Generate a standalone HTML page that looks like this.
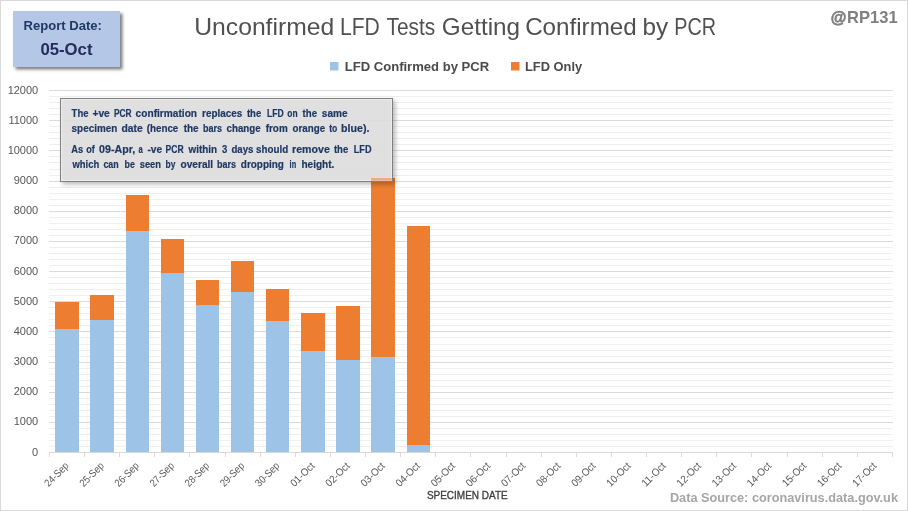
<!DOCTYPE html>
<html lang="en"><head><meta charset="utf-8"><title>Unconfirmed LFD Tests Getting Confirmed by PCR</title>
<style>html,body{margin:0;padding:0;background:#fff}svg{display:block}text{font-family:"Liberation Sans",sans-serif}</style>
</head><body>
<svg width="908" height="511" viewBox="0 0 908 511">
<defs>
<filter id="sh1" x="-20%" y="-20%" width="150%" height="150%"><feDropShadow dx="2.5" dy="2.5" stdDeviation="1.8" flood-color="#000" flood-opacity="0.5"/></filter>
<filter id="sh2" x="-10%" y="-20%" width="120%" height="150%"><feDropShadow dx="2.5" dy="2.5" stdDeviation="2" flood-color="#000" flood-opacity="0.28"/></filter>
</defs>
<rect x="0" y="0" width="908" height="511" fill="#fff"/>
<rect x="0.5" y="0.5" width="907" height="510" fill="none" stroke="#d9d9d9" stroke-width="1"/>
<g shape-rendering="crispEdges">
<rect x="49" y="96" width="844" height="1" fill="#efefef"/>
<rect x="49" y="102" width="844" height="1" fill="#efefef"/>
<rect x="49" y="108" width="844" height="1" fill="#efefef"/>
<rect x="49" y="114" width="844" height="1" fill="#efefef"/>
<rect x="49" y="126" width="844" height="1" fill="#efefef"/>
<rect x="49" y="132" width="844" height="1" fill="#efefef"/>
<rect x="49" y="138" width="844" height="1" fill="#efefef"/>
<rect x="49" y="144" width="844" height="1" fill="#efefef"/>
<rect x="49" y="156" width="844" height="1" fill="#efefef"/>
<rect x="49" y="162" width="844" height="1" fill="#efefef"/>
<rect x="49" y="169" width="844" height="1" fill="#efefef"/>
<rect x="49" y="175" width="844" height="1" fill="#efefef"/>
<rect x="49" y="187" width="844" height="1" fill="#efefef"/>
<rect x="49" y="193" width="844" height="1" fill="#efefef"/>
<rect x="49" y="199" width="844" height="1" fill="#efefef"/>
<rect x="49" y="205" width="844" height="1" fill="#efefef"/>
<rect x="49" y="217" width="844" height="1" fill="#efefef"/>
<rect x="49" y="223" width="844" height="1" fill="#efefef"/>
<rect x="49" y="229" width="844" height="1" fill="#efefef"/>
<rect x="49" y="235" width="844" height="1" fill="#efefef"/>
<rect x="49" y="247" width="844" height="1" fill="#efefef"/>
<rect x="49" y="253" width="844" height="1" fill="#efefef"/>
<rect x="49" y="259" width="844" height="1" fill="#efefef"/>
<rect x="49" y="265" width="844" height="1" fill="#efefef"/>
<rect x="49" y="277" width="844" height="1" fill="#efefef"/>
<rect x="49" y="283" width="844" height="1" fill="#efefef"/>
<rect x="49" y="289" width="844" height="1" fill="#efefef"/>
<rect x="49" y="295" width="844" height="1" fill="#efefef"/>
<rect x="49" y="307" width="844" height="1" fill="#efefef"/>
<rect x="49" y="313" width="844" height="1" fill="#efefef"/>
<rect x="49" y="319" width="844" height="1" fill="#efefef"/>
<rect x="49" y="325" width="844" height="1" fill="#efefef"/>
<rect x="49" y="337" width="844" height="1" fill="#efefef"/>
<rect x="49" y="344" width="844" height="1" fill="#efefef"/>
<rect x="49" y="350" width="844" height="1" fill="#efefef"/>
<rect x="49" y="356" width="844" height="1" fill="#efefef"/>
<rect x="49" y="368" width="844" height="1" fill="#efefef"/>
<rect x="49" y="374" width="844" height="1" fill="#efefef"/>
<rect x="49" y="380" width="844" height="1" fill="#efefef"/>
<rect x="49" y="386" width="844" height="1" fill="#efefef"/>
<rect x="49" y="398" width="844" height="1" fill="#efefef"/>
<rect x="49" y="404" width="844" height="1" fill="#efefef"/>
<rect x="49" y="410" width="844" height="1" fill="#efefef"/>
<rect x="49" y="416" width="844" height="1" fill="#efefef"/>
<rect x="49" y="428" width="844" height="1" fill="#efefef"/>
<rect x="49" y="434" width="844" height="1" fill="#efefef"/>
<rect x="49" y="440" width="844" height="1" fill="#efefef"/>
<rect x="49" y="446" width="844" height="1" fill="#efefef"/>
<rect x="49" y="90" width="844" height="1" fill="#dbdbdb"/>
<rect x="49" y="120" width="844" height="1" fill="#dbdbdb"/>
<rect x="49" y="150" width="844" height="1" fill="#dbdbdb"/>
<rect x="49" y="181" width="844" height="1" fill="#dbdbdb"/>
<rect x="49" y="211" width="844" height="1" fill="#dbdbdb"/>
<rect x="49" y="241" width="844" height="1" fill="#dbdbdb"/>
<rect x="49" y="271" width="844" height="1" fill="#dbdbdb"/>
<rect x="49" y="301" width="844" height="1" fill="#dbdbdb"/>
<rect x="49" y="331" width="844" height="1" fill="#dbdbdb"/>
<rect x="49" y="362" width="844" height="1" fill="#dbdbdb"/>
<rect x="49" y="392" width="844" height="1" fill="#dbdbdb"/>
<rect x="49" y="422" width="844" height="1" fill="#dbdbdb"/>
<rect x="55" y="329" width="24" height="123" fill="#9dc3e6"/>
<rect x="55" y="302" width="24" height="27" fill="#ed7d31"/>
<rect x="90" y="320" width="24" height="132" fill="#9dc3e6"/>
<rect x="90" y="295" width="24" height="25" fill="#ed7d31"/>
<rect x="126" y="231" width="23" height="221" fill="#9dc3e6"/>
<rect x="126" y="195" width="23" height="36" fill="#ed7d31"/>
<rect x="161" y="273" width="23" height="179" fill="#9dc3e6"/>
<rect x="161" y="239" width="23" height="34" fill="#ed7d31"/>
<rect x="196" y="305" width="23" height="147" fill="#9dc3e6"/>
<rect x="196" y="280" width="23" height="25" fill="#ed7d31"/>
<rect x="231" y="292" width="23" height="160" fill="#9dc3e6"/>
<rect x="231" y="261" width="23" height="31" fill="#ed7d31"/>
<rect x="266" y="321" width="23" height="131" fill="#9dc3e6"/>
<rect x="266" y="289" width="23" height="32" fill="#ed7d31"/>
<rect x="301" y="351" width="24" height="101" fill="#9dc3e6"/>
<rect x="301" y="313" width="24" height="38" fill="#ed7d31"/>
<rect x="336" y="360" width="24" height="92" fill="#9dc3e6"/>
<rect x="336" y="306" width="24" height="54" fill="#ed7d31"/>
<rect x="371" y="357" width="24" height="95" fill="#9dc3e6"/>
<rect x="371" y="178" width="24" height="179" fill="#ed7d31"/>
<rect x="407" y="445" width="23" height="7" fill="#9dc3e6"/>
<rect x="407" y="226" width="23" height="219" fill="#ed7d31"/>
<rect x="49" y="452" width="844" height="1" fill="#d9d9d9"/>
<rect x="49" y="452" width="1" height="5" fill="#d9d9d9"/>
<rect x="84" y="452" width="1" height="5" fill="#d9d9d9"/>
<rect x="119" y="452" width="1" height="5" fill="#d9d9d9"/>
<rect x="154" y="452" width="1" height="5" fill="#d9d9d9"/>
<rect x="189" y="452" width="1" height="5" fill="#d9d9d9"/>
<rect x="225" y="452" width="1" height="5" fill="#d9d9d9"/>
<rect x="260" y="452" width="1" height="5" fill="#d9d9d9"/>
<rect x="295" y="452" width="1" height="5" fill="#d9d9d9"/>
<rect x="330" y="452" width="1" height="5" fill="#d9d9d9"/>
<rect x="365" y="452" width="1" height="5" fill="#d9d9d9"/>
<rect x="400" y="452" width="1" height="5" fill="#d9d9d9"/>
<rect x="435" y="452" width="1" height="5" fill="#d9d9d9"/>
<rect x="470" y="452" width="1" height="5" fill="#d9d9d9"/>
<rect x="506" y="452" width="1" height="5" fill="#d9d9d9"/>
<rect x="541" y="452" width="1" height="5" fill="#d9d9d9"/>
<rect x="576" y="452" width="1" height="5" fill="#d9d9d9"/>
<rect x="611" y="452" width="1" height="5" fill="#d9d9d9"/>
<rect x="646" y="452" width="1" height="5" fill="#d9d9d9"/>
<rect x="681" y="452" width="1" height="5" fill="#d9d9d9"/>
<rect x="716" y="452" width="1" height="5" fill="#d9d9d9"/>
<rect x="751" y="452" width="1" height="5" fill="#d9d9d9"/>
<rect x="787" y="452" width="1" height="5" fill="#d9d9d9"/>
<rect x="822" y="452" width="1" height="5" fill="#d9d9d9"/>
<rect x="857" y="452" width="1" height="5" fill="#d9d9d9"/>
<rect x="892" y="452" width="1" height="5" fill="#d9d9d9"/>
</g>
<text x="32.10" y="456.10" font-size="11" fill="#555555">0</text>
<text x="13.75" y="425.10" font-size="11" fill="#555555">1000</text>
<text x="13.75" y="395.10" font-size="11" fill="#555555">2000</text>
<text x="13.75" y="365.10" font-size="11" fill="#555555">3000</text>
<text x="13.75" y="335.10" font-size="11" fill="#555555">4000</text>
<text x="13.75" y="305.10" font-size="11" fill="#555555">5000</text>
<text x="13.75" y="275.10" font-size="11" fill="#555555">6000</text>
<text x="13.75" y="244.10" font-size="11" fill="#555555">7000</text>
<text x="13.75" y="214.10" font-size="11" fill="#555555">8000</text>
<text x="13.75" y="184.10" font-size="11" fill="#555555">9000</text>
<text x="7.63" y="154.10" font-size="11" fill="#555555">10000</text>
<text x="8.45" y="124.10" font-size="11" fill="#555555">11000</text>
<text x="7.63" y="94.10" font-size="11" fill="#555555">12000</text>
<text transform="translate(69.46,466.50) rotate(-45)" x="-29.50" y="0" font-size="10.5" fill="#595959" textLength="29.50" lengthAdjust="spacingAndGlyphs">24-Sep</text>
<text transform="translate(104.58,466.50) rotate(-45)" x="-29.50" y="0" font-size="10.5" fill="#595959" textLength="29.50" lengthAdjust="spacingAndGlyphs">25-Sep</text>
<text transform="translate(139.70,466.50) rotate(-45)" x="-29.50" y="0" font-size="10.5" fill="#595959" textLength="29.50" lengthAdjust="spacingAndGlyphs">26-Sep</text>
<text transform="translate(174.82,466.50) rotate(-45)" x="-29.50" y="0" font-size="10.5" fill="#595959" textLength="29.50" lengthAdjust="spacingAndGlyphs">27-Sep</text>
<text transform="translate(209.94,466.50) rotate(-45)" x="-29.50" y="0" font-size="10.5" fill="#595959" textLength="29.50" lengthAdjust="spacingAndGlyphs">28-Sep</text>
<text transform="translate(245.06,466.50) rotate(-45)" x="-29.50" y="0" font-size="10.5" fill="#595959" textLength="29.50" lengthAdjust="spacingAndGlyphs">29-Sep</text>
<text transform="translate(280.19,466.50) rotate(-45)" x="-29.50" y="0" font-size="10.5" fill="#595959" textLength="29.50" lengthAdjust="spacingAndGlyphs">30-Sep</text>
<text transform="translate(315.31,466.50) rotate(-45)" x="-29.50" y="0" font-size="10.5" fill="#595959" textLength="29.50" lengthAdjust="spacingAndGlyphs">01-Oct</text>
<text transform="translate(350.43,466.50) rotate(-45)" x="-29.50" y="0" font-size="10.5" fill="#595959" textLength="29.50" lengthAdjust="spacingAndGlyphs">02-Oct</text>
<text transform="translate(385.55,466.50) rotate(-45)" x="-29.50" y="0" font-size="10.5" fill="#595959" textLength="29.50" lengthAdjust="spacingAndGlyphs">03-Oct</text>
<text transform="translate(420.67,466.50) rotate(-45)" x="-29.50" y="0" font-size="10.5" fill="#595959" textLength="29.50" lengthAdjust="spacingAndGlyphs">04-Oct</text>
<text transform="translate(455.79,466.50) rotate(-45)" x="-29.50" y="0" font-size="10.5" fill="#595959" textLength="29.50" lengthAdjust="spacingAndGlyphs">05-Oct</text>
<text transform="translate(490.91,466.50) rotate(-45)" x="-29.50" y="0" font-size="10.5" fill="#595959" textLength="29.50" lengthAdjust="spacingAndGlyphs">06-Oct</text>
<text transform="translate(526.03,466.50) rotate(-45)" x="-29.50" y="0" font-size="10.5" fill="#595959" textLength="29.50" lengthAdjust="spacingAndGlyphs">07-Oct</text>
<text transform="translate(561.15,466.50) rotate(-45)" x="-29.50" y="0" font-size="10.5" fill="#595959" textLength="29.50" lengthAdjust="spacingAndGlyphs">08-Oct</text>
<text transform="translate(596.27,466.50) rotate(-45)" x="-29.50" y="0" font-size="10.5" fill="#595959" textLength="29.50" lengthAdjust="spacingAndGlyphs">09-Oct</text>
<text transform="translate(631.39,466.50) rotate(-45)" x="-29.50" y="0" font-size="10.5" fill="#595959" textLength="29.50" lengthAdjust="spacingAndGlyphs">10-Oct</text>
<text transform="translate(666.51,466.50) rotate(-45)" x="-29.50" y="0" font-size="10.5" fill="#595959" textLength="29.50" lengthAdjust="spacingAndGlyphs">11-Oct</text>
<text transform="translate(701.64,466.50) rotate(-45)" x="-29.50" y="0" font-size="10.5" fill="#595959" textLength="29.50" lengthAdjust="spacingAndGlyphs">12-Oct</text>
<text transform="translate(736.76,466.50) rotate(-45)" x="-29.50" y="0" font-size="10.5" fill="#595959" textLength="29.50" lengthAdjust="spacingAndGlyphs">13-Oct</text>
<text transform="translate(771.88,466.50) rotate(-45)" x="-29.50" y="0" font-size="10.5" fill="#595959" textLength="29.50" lengthAdjust="spacingAndGlyphs">14-Oct</text>
<text transform="translate(807.00,466.50) rotate(-45)" x="-29.50" y="0" font-size="10.5" fill="#595959" textLength="29.50" lengthAdjust="spacingAndGlyphs">15-Oct</text>
<text transform="translate(842.12,466.50) rotate(-45)" x="-29.50" y="0" font-size="10.5" fill="#595959" textLength="29.50" lengthAdjust="spacingAndGlyphs">16-Oct</text>
<text transform="translate(877.24,466.50) rotate(-45)" x="-29.50" y="0" font-size="10.5" fill="#595959" textLength="29.50" lengthAdjust="spacingAndGlyphs">17-Oct</text>
<rect x="330" y="62" width="8.5" height="8.5" fill="#9dc3e6"/>
<rect x="511" y="62" width="8.5" height="8.5" fill="#ed7d31"/>
<rect x="13" y="11" width="107" height="56" fill="#b4c7e7" filter="url(#sh1)"/>
<g filter="url(#sh2)"><rect x="60.5" y="98.5" width="332" height="83" fill="#e0e0e0" fill-opacity="0.9" stroke="#7f7f7f" stroke-width="1"/></g>
<rect x="61.5" y="99.5" width="330" height="81" fill="none" stroke="#f2f2f2" stroke-opacity="0.7" stroke-width="1"/>
<rect x="371" y="178" width="21" height="3" fill="#ed7d31" fill-opacity="0.45"/>
<text x="23.60" y="29.90" font-size="12.0" font-weight="bold" fill="#1f3864" textLength="78.38" lengthAdjust="spacingAndGlyphs">Report Date:</text>
<text x="40.40" y="54.50" font-size="16.2" font-weight="bold" fill="#262b5c" textLength="52.07" lengthAdjust="spacingAndGlyphs">05-Oct</text>
<text x="194.23" y="34.70" font-size="23.2" font-weight="normal" fill="#505050" textLength="140.02" lengthAdjust="spacingAndGlyphs">Unconfirmed</text>
<text x="339.99" y="34.70" font-size="23.2" font-weight="normal" fill="#505050" textLength="39.89" lengthAdjust="spacingAndGlyphs">LFD</text>
<text x="386.50" y="34.70" font-size="23.2" font-weight="normal" fill="#505050" textLength="48.73" lengthAdjust="spacingAndGlyphs">Tests</text>
<text x="441.85" y="34.70" font-size="23.2" font-weight="normal" fill="#505050" textLength="78.29" lengthAdjust="spacingAndGlyphs">Getting</text>
<text x="525.16" y="34.70" font-size="23.2" font-weight="normal" fill="#505050" textLength="111.58" lengthAdjust="spacingAndGlyphs">Confirmed</text>
<text x="642.55" y="34.70" font-size="23.2" font-weight="normal" fill="#505050" textLength="25.62" lengthAdjust="spacingAndGlyphs">by</text>
<text x="674.25" y="34.70" font-size="23.2" font-weight="normal" fill="#505050" textLength="41.69" lengthAdjust="spacingAndGlyphs">PCR</text>
<text x="830.80" y="22.90" font-size="16.7" font-weight="bold" fill="#7f7f7f" stroke="#7f7f7f" stroke-width="0.7" textLength="15.56" lengthAdjust="spacingAndGlyphs">@</text>
<text x="847.11" y="22.90" font-size="16.7" font-weight="bold" fill="#7f7f7f" textLength="50.57" lengthAdjust="spacingAndGlyphs">RP131</text>
<text x="344.70" y="71.30" font-size="13.3" font-weight="bold" fill="#4a4a4a" textLength="144.51" lengthAdjust="spacingAndGlyphs">LFD Confirmed by PCR</text>
<text x="525.00" y="71.30" font-size="13.3" font-weight="bold" fill="#4a4a4a" textLength="57.12" lengthAdjust="spacingAndGlyphs">LFD Only</text>
<text x="426.90" y="498.80" font-size="10.8" font-weight="normal" fill="#404040" stroke="#404040" stroke-width="0.35" textLength="80.79" lengthAdjust="spacingAndGlyphs">SPECIMEN DATE</text>
<text x="669.90" y="501.90" font-size="12.2" font-weight="bold" fill="#a6a6a6" textLength="228.07" lengthAdjust="spacingAndGlyphs">Data Source: coronavirus.data.gov.uk</text>
<text x="71.60" y="116.90" font-size="11.0" font-weight="bold" fill="#1f3864" stroke="#1f3864" stroke-width="0.2" textLength="16.90" lengthAdjust="spacingAndGlyphs">The</text>
<text x="92.40" y="116.90" font-size="11.0" font-weight="bold" fill="#1f3864" stroke="#1f3864" stroke-width="0.2" textLength="17.41" lengthAdjust="spacingAndGlyphs">+ve</text>
<text x="113.90" y="116.90" font-size="11.0" font-weight="bold" fill="#1f3864" stroke="#1f3864" stroke-width="0.2" textLength="17.66" lengthAdjust="spacingAndGlyphs">PCR</text>
<text x="135.60" y="116.90" font-size="11.0" font-weight="bold" fill="#1f3864" stroke="#1f3864" stroke-width="0.2" textLength="61.44" lengthAdjust="spacingAndGlyphs">confirmation</text>
<text x="202.10" y="116.90" font-size="11.0" font-weight="bold" fill="#1f3864" stroke="#1f3864" stroke-width="0.2" textLength="40.31" lengthAdjust="spacingAndGlyphs">replaces</text>
<text x="246.90" y="116.90" font-size="11.0" font-weight="bold" fill="#1f3864" stroke="#1f3864" stroke-width="0.2" textLength="14.30" lengthAdjust="spacingAndGlyphs">the</text>
<text x="267.00" y="116.90" font-size="11.0" font-weight="bold" fill="#1f3864" stroke="#1f3864" stroke-width="0.2" textLength="16.66" lengthAdjust="spacingAndGlyphs">LFD</text>
<text x="287.30" y="116.90" font-size="11.0" font-weight="bold" fill="#1f3864" stroke="#1f3864" stroke-width="0.2" textLength="10.29" lengthAdjust="spacingAndGlyphs">on</text>
<text x="302.60" y="116.90" font-size="11.0" font-weight="bold" fill="#1f3864" stroke="#1f3864" stroke-width="0.2" textLength="14.50" lengthAdjust="spacingAndGlyphs">the</text>
<text x="321.80" y="116.90" font-size="11.0" font-weight="bold" fill="#1f3864" stroke="#1f3864" stroke-width="0.2" textLength="25.71" lengthAdjust="spacingAndGlyphs">same</text>
<text x="71.60" y="131.80" font-size="11.0" font-weight="bold" fill="#1f3864" stroke="#1f3864" stroke-width="0.2" textLength="45.65" lengthAdjust="spacingAndGlyphs">specimen</text>
<text x="121.50" y="131.80" font-size="11.0" font-weight="bold" fill="#1f3864" stroke="#1f3864" stroke-width="0.2" textLength="21.31" lengthAdjust="spacingAndGlyphs">date</text>
<text x="146.70" y="131.80" font-size="11.0" font-weight="bold" fill="#1f3864" stroke="#1f3864" stroke-width="0.2" textLength="31.60" lengthAdjust="spacingAndGlyphs">(hence</text>
<text x="183.70" y="131.80" font-size="11.0" font-weight="bold" fill="#1f3864" stroke="#1f3864" stroke-width="0.2" textLength="14.91" lengthAdjust="spacingAndGlyphs">the</text>
<text x="203.00" y="131.80" font-size="11.0" font-weight="bold" fill="#1f3864" stroke="#1f3864" stroke-width="0.2" textLength="19.10" lengthAdjust="spacingAndGlyphs">bars</text>
<text x="226.60" y="131.80" font-size="11.0" font-weight="bold" fill="#1f3864" stroke="#1f3864" stroke-width="0.2" textLength="34.00" lengthAdjust="spacingAndGlyphs">change</text>
<text x="265.70" y="131.80" font-size="11.0" font-weight="bold" fill="#1f3864" stroke="#1f3864" stroke-width="0.2" textLength="22.00" lengthAdjust="spacingAndGlyphs">from</text>
<text x="292.50" y="131.80" font-size="11.0" font-weight="bold" fill="#1f3864" stroke="#1f3864" stroke-width="0.2" textLength="32.60" lengthAdjust="spacingAndGlyphs">orange</text>
<text x="329.20" y="131.80" font-size="11.0" font-weight="bold" fill="#1f3864" stroke="#1f3864" stroke-width="0.2" textLength="8.08" lengthAdjust="spacingAndGlyphs">to</text>
<text x="341.10" y="131.80" font-size="11.0" font-weight="bold" fill="#1f3864" stroke="#1f3864" stroke-width="0.2" textLength="28.45" lengthAdjust="spacingAndGlyphs">blue).</text>
<text x="71.30" y="152.90" font-size="11.0" font-weight="bold" fill="#1f3864" stroke="#1f3864" stroke-width="0.2" textLength="11.90" lengthAdjust="spacingAndGlyphs">As</text>
<text x="86.30" y="152.90" font-size="11.0" font-weight="bold" fill="#1f3864" stroke="#1f3864" stroke-width="0.2" textLength="8.52" lengthAdjust="spacingAndGlyphs">of</text>
<text x="99.10" y="152.90" font-size="11.0" font-weight="bold" fill="#1f3864" stroke="#1f3864" stroke-width="0.2" textLength="36.05" lengthAdjust="spacingAndGlyphs">09-Apr,</text>
<text x="138.60" y="152.90" font-size="11.0" font-weight="bold" fill="#1f3864" stroke="#1f3864" stroke-width="0.2" textLength="4.28" lengthAdjust="spacingAndGlyphs">a</text>
<text x="147.40" y="152.90" font-size="11.0" font-weight="bold" fill="#1f3864" stroke="#1f3864" stroke-width="0.2" textLength="14.71" lengthAdjust="spacingAndGlyphs">-ve</text>
<text x="165.60" y="152.90" font-size="11.0" font-weight="bold" fill="#1f3864" stroke="#1f3864" stroke-width="0.2" textLength="18.06" lengthAdjust="spacingAndGlyphs">PCR</text>
<text x="188.50" y="152.90" font-size="11.0" font-weight="bold" fill="#1f3864" stroke="#1f3864" stroke-width="0.2" textLength="28.55" lengthAdjust="spacingAndGlyphs">within</text>
<text x="222.00" y="152.90" font-size="11.0" font-weight="bold" fill="#1f3864" stroke="#1f3864" stroke-width="0.2" textLength="5.30" lengthAdjust="spacingAndGlyphs">3</text>
<text x="231.40" y="152.90" font-size="11.0" font-weight="bold" fill="#1f3864" stroke="#1f3864" stroke-width="0.2" textLength="22.10" lengthAdjust="spacingAndGlyphs">days</text>
<text x="256.10" y="152.90" font-size="11.0" font-weight="bold" fill="#1f3864" stroke="#1f3864" stroke-width="0.2" textLength="32.04" lengthAdjust="spacingAndGlyphs">should</text>
<text x="292.10" y="152.90" font-size="11.0" font-weight="bold" fill="#1f3864" stroke="#1f3864" stroke-width="0.2" textLength="37.71" lengthAdjust="spacingAndGlyphs">remove</text>
<text x="333.90" y="152.90" font-size="11.0" font-weight="bold" fill="#1f3864" stroke="#1f3864" stroke-width="0.2" textLength="14.30" lengthAdjust="spacingAndGlyphs">the</text>
<text x="353.80" y="152.90" font-size="11.0" font-weight="bold" fill="#1f3864" stroke="#1f3864" stroke-width="0.2" textLength="17.75" lengthAdjust="spacingAndGlyphs">LFD</text>
<text x="72.46" y="167.80" font-size="11.0" font-weight="bold" fill="#1f3864" stroke="#1f3864" stroke-width="0.2" textLength="26.80" lengthAdjust="spacingAndGlyphs">which</text>
<text x="103.40" y="167.80" font-size="11.0" font-weight="bold" fill="#1f3864" stroke="#1f3864" stroke-width="0.2" textLength="15.27" lengthAdjust="spacingAndGlyphs">can</text>
<text x="124.50" y="167.80" font-size="11.0" font-weight="bold" fill="#1f3864" stroke="#1f3864" stroke-width="0.2" textLength="10.29" lengthAdjust="spacingAndGlyphs">be</text>
<text x="139.70" y="167.80" font-size="11.0" font-weight="bold" fill="#1f3864" stroke="#1f3864" stroke-width="0.2" textLength="21.26" lengthAdjust="spacingAndGlyphs">seen</text>
<text x="165.60" y="167.80" font-size="11.0" font-weight="bold" fill="#1f3864" stroke="#1f3864" stroke-width="0.2" textLength="9.82" lengthAdjust="spacingAndGlyphs">by</text>
<text x="180.50" y="167.80" font-size="11.0" font-weight="bold" fill="#1f3864" stroke="#1f3864" stroke-width="0.2" textLength="32.65" lengthAdjust="spacingAndGlyphs">overall</text>
<text x="217.00" y="167.80" font-size="11.0" font-weight="bold" fill="#1f3864" stroke="#1f3864" stroke-width="0.2" textLength="19.10" lengthAdjust="spacingAndGlyphs">bars</text>
<text x="240.80" y="167.80" font-size="11.0" font-weight="bold" fill="#1f3864" stroke="#1f3864" stroke-width="0.2" textLength="43.15" lengthAdjust="spacingAndGlyphs">dropping</text>
<text x="289.60" y="167.80" font-size="11.0" font-weight="bold" fill="#1f3864" stroke="#1f3864" stroke-width="0.2" textLength="6.51" lengthAdjust="spacingAndGlyphs">in</text>
<text x="301.50" y="167.80" font-size="11.0" font-weight="bold" fill="#1f3864" stroke="#1f3864" stroke-width="0.2" textLength="32.85" lengthAdjust="spacingAndGlyphs">height.</text>
</svg>
</body></html>
